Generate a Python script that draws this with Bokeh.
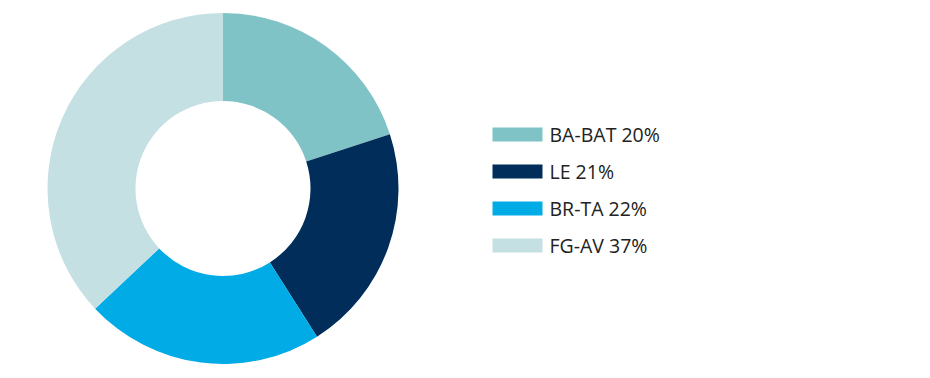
import math
from bokeh.plotting import figure
from bokeh.models import Range1d, ColumnDataSource
from bokeh.core.properties import value
from bokeh.embed import file_html
from bokeh.resources import INLINE

categories = ["BA-BAT", "LE", "BR-TA", "FG-AV"]
shares = [20, 21, 22, 37]
colors = ["#7fc3c6", "#002d5a", "#00abe6", "#c5e0e2"]

W, H = 930, 378
p = figure(width=W, height=H, output_backend="svg", toolbar_location=None,
           x_range=Range1d(0, W), y_range=Range1d(0, H), min_border=0)
p.axis.visible = False
p.grid.visible = False
p.outline_line_color = None
p.background_fill_color = "white"
p.border_fill_color = "white"

total = sum(shares)
starts, ends = [], []
cum = 0
for s in shares:
    starts.append(math.pi / 2 - cum / total * 2 * math.pi)
    cum += s
    ends.append(math.pi / 2 - cum / total * 2 * math.pi)

cx, cy = 222.5, H - 188
src = ColumnDataSource(dict(start=starts, end=ends, color=colors))
p.annular_wedge(x=cx, y=cy, inner_radius=87.5, outer_radius=175.5,
                start_angle="start", end_angle="end", direction="clock",
                fill_color="color", line_color=None, source=src)

# legend
ly = [H - (134 + 37 * i) for i in range(len(categories))]
labels = [f"{c} {v}%" for c, v in zip(categories, shares)]
lsrc = ColumnDataSource(dict(y=ly, color=colors, label=labels))
p.rect(x=517, y="y", width=50, height=14, fill_color="color", line_color=None, source=lsrc)
p.text(x=549, y="y", text="label", text_font=value("Open Sans"), text_font_size="19.5px",
       text_color="#222222", text_baseline="middle", source=lsrc)

open("out.html", "w").write(file_html(p, INLINE))
